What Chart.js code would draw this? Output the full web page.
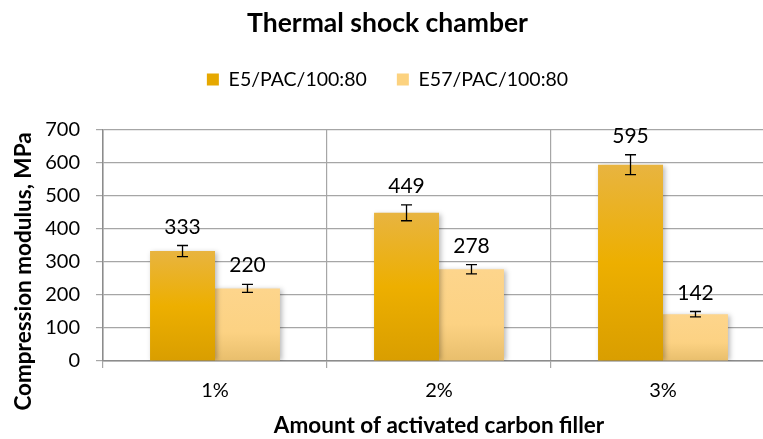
<!DOCTYPE html>
<html>
<head>
<meta charset="utf-8">
<script src="https://cdn.jsdelivr.net/npm/chart.js@4"></script>
<style>
html,body{margin:0;padding:0;background:#fff;overflow:hidden;width:763px;height:439px;}
#wrap{width:776px;height:439px;}
</style>
</head>
<body>
<div id="wrap"><canvas id="c" width="776" height="439"></canvas></div>
<script>
const categories = ['1%', '2%', '3%'];
const seriesNames = ['E5/PAC/100:80', 'E57/PAC/100:80'];
const e5Values = [333, 449, 595];
const e5Errors = [17, 24, 30];
const e57Values = [220, 278, 142];
const e57Errors = [12, 14, 8];
const yTicks = [0, 100, 200, 300, 400, 500, 600, 700];
const yTitle = 'Compression modulus, MPa';

const FONT = 'Lato, "Open Sans", sans-serif';

function barGrad(context, stops, solid) {
  const chart = context.chart;
  const area = chart.chartArea;
  if (!area) return solid;
  const ctx = chart.ctx;
  const ys = chart.scales.y;
  let top = area.top, bottom = area.bottom;
  if (ys && context.raw !== undefined) {
    const t = ys.getPixelForValue(context.raw), b = ys.getPixelForValue(0);
    if (isFinite(t) && isFinite(b) && b > t) { top = t; bottom = b; }
  }
  if (!isFinite(top) || !isFinite(bottom)) return solid;
  const g = ctx.createLinearGradient(0, top, 0, bottom);
  stops.forEach(s => g.addColorStop(s[0], s[1]));
  return g;
}
const darkStops = [[0, '#E8B440'], [0.5, '#EDAF00'], [1, '#D99E00']];
const lightStops = [[0, '#FDD58C'], [0.6, '#FCD283'], [1, '#E8BE6C']];

const errorBars = {
  id: 'errorBars',
  afterDatasetsDraw(chart) {
    const ctx = chart.ctx;
    const y = chart.scales.y;
    chart.data.datasets.forEach((ds, i) => {
      const meta = chart.getDatasetMeta(i);
      meta.data.forEach((el, j) => {
        const v = ds.data[j], e = ds.errors[j];
        const yt = y.getPixelForValue(v + e), yb = y.getPixelForValue(v - e);
        const x = el.x;
        ctx.save();
        ctx.strokeStyle = '#000';
        ctx.lineWidth = 1.3;
        ctx.beginPath();
        ctx.moveTo(x, yt); ctx.lineTo(x, yb);
        ctx.moveTo(x - 5.5, yt); ctx.lineTo(x + 5.5, yt);
        ctx.moveTo(x - 5.5, yb); ctx.lineTo(x + 5.5, yb);
        ctx.stroke();
        ctx.fillStyle = '#000';
        ctx.font = '21px ' + FONT;
        ctx.textAlign = 'center';
        ctx.textBaseline = 'alphabetic';
        ctx.fillText(String(v), x, yt - 12);
        ctx.restore();
      });
    });
  }
};
const shadow = {
  id: 'barShadow',
  beforeDatasetDraw(chart) {
    const ctx = chart.ctx;
    ctx.save();
    ctx.shadowColor = 'rgba(0,0,0,0.28)';
    ctx.shadowBlur = 5;
    ctx.shadowOffsetX = 2;
    ctx.shadowOffsetY = 1;
  },
  afterDatasetDraw(chart) {
    chart.ctx.restore();
  }
};
const yAxisTitle = {
  id: 'yAxisTitle',
  afterDraw(chart) {
    const ctx = chart.ctx, a = chart.chartArea;
    ctx.save();
    ctx.translate(24, (a.top + a.bottom) / 2 + 26);
    ctx.rotate(-Math.PI / 2);
    ctx.font = 'bold 22.5px ' + FONT;
    ctx.fillStyle = '#000';
    ctx.textAlign = 'center';
    ctx.textBaseline = 'middle';
    ctx.fillText(yTitle, 0, 0);
    ctx.restore();
  }
};

new Chart(document.getElementById('c'), {
  type: 'bar',
  data: {
    labels: categories,
    datasets: [
      { label: seriesNames[0], data: e5Values, errors: e5Errors,
        backgroundColor: c => barGrad(c, darkStops, '#E6A800'), legendColor: '#E6A800',
        barPercentage: 1, categoryPercentage: 0.58 },
      { label: seriesNames[1], data: e57Values, errors: e57Errors,
        backgroundColor: c => barGrad(c, lightStops, '#FCD27F'), legendColor: '#FCD27F',
        barPercentage: 1, categoryPercentage: 0.58 }
    ]
  },
  options: {
    responsive: false,
    animation: false,
    devicePixelRatio: 1,
    layout: { padding: { left: 0, right: 1, top: 0, bottom: 0 } },
    plugins: {
      title: {
        display: true, text: 'Thermal shock chamber', color: '#000',
        font: { family: FONT, size: 26.5, weight: 'bold' },
        padding: { top: 8, bottom: 0 }
      },
      subtitle: {
        display: true, text: ' ', weight: 500,
        font: { size: 1 }, padding: { top: 15, bottom: 14.5 }
      },
      legend: {
        display: true, position: 'top',
        labels: {
          color: '#000', font: { family: FONT, size: 19.5 },
          boxWidth: 12, boxHeight: 12, padding: 30,
          generateLabels(chart) {
            return chart.data.datasets.map((ds, i) => ({
              text: ds.label, fillStyle: ds.legendColor, strokeStyle: ds.legendColor,
              lineWidth: 0, datasetIndex: i, hidden: false
            }));
          }
        }
      },
      tooltip: { enabled: false }
    },
    scales: {
      x: {
        grid: { display: true, offset: true, color: '#A6A6A6', lineWidth: 1.2, tickLength: 7, drawTicks: true },
        border: { display: true, color: '#8C8C8C', width: 1.5 },
        ticks: { color: '#000', font: { family: FONT, size: 20 }, padding: 11 },
        title: { display: true, text: 'Amount of activated carbon filler', color: '#000',
          font: { family: FONT, size: 22.5, weight: 'bold' }, padding: { top: 4, bottom: 0 } },
        afterFit(s) { s.height = 78; }
      },
      y: {
        min: 0, max: 700,
        afterBuildTicks(s) { s.ticks = yTicks.map(v => ({ value: v })); },
        grid: { display: true, color: '#A6A6A6', lineWidth: 1.2, tickLength: 7, drawTicks: true },
        border: { display: true, color: '#8C8C8C', width: 1.5 },
        ticks: { color: '#000', font: { family: FONT, size: 20 }, padding: 16 },
        afterFit(s) { s.width = 103; }
      }
    }
  },
  plugins: [shadow, errorBars, yAxisTitle]
});
</script>
</body>
</html>
